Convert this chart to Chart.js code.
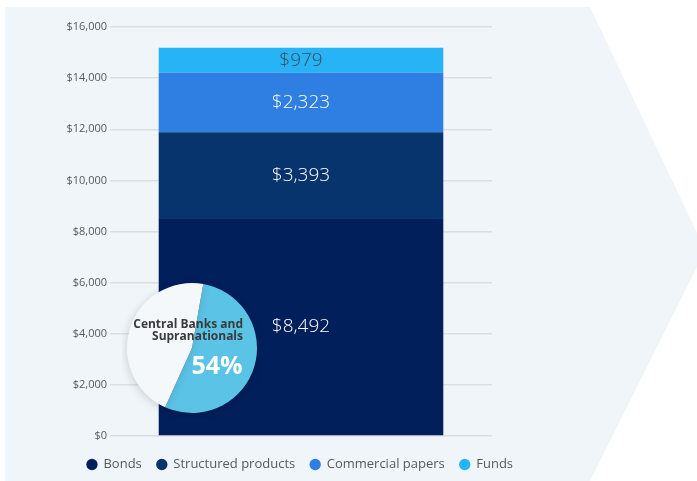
<!DOCTYPE html>
<html>
<head>
<meta charset="utf-8">
<script src="https://cdn.jsdelivr.net/npm/chart.js@4.4.1/dist/chart.umd.min.js"></script>
<style>
  html, body { margin: 0; padding: 0; background: #ffffff; overflow: hidden; }
  #wrap { position: relative; width: 697px; height: 481px; }
  #pane {
    position: absolute; left: 0; top: 0; width: 697px; height: 481px;
    background: #eff5f8;
    clip-path: polygon(5px 7px, 590px 7px, 697px 233px, 697px 267px, 590px 481px, 5px 481px);
  }
  #barBox { position: absolute; left: 0; top: 0; width: 600px; height: 481px; }
  #pieBox { position: absolute; left: 122px; top: 278px; width: 140px; height: 140px; }
</style>
</head>
<body>
<div id="wrap">
  <div id="pane"></div>
  <div id="barBox"><canvas id="barChart"></canvas></div>
  <div id="pieBox"><canvas id="pieChart"></canvas></div>
</div>
<script>
// stacked totals, $ bn
const categories = ['Total'];
const seriesNames = ['Bonds', 'Structured products', 'Commercial papers', 'Funds'];
const bonds = [8492];
const structuredProducts = [3393];
const commercialPapers = [2323];
const funds = [979];
const seriesColors = ['#011f5b', '#07346d', '#2f7ee1', '#27b4f6'];
const labelColors = ['#ffffff', '#ffffff', '#ffffff', '#3c4a58'];
const yTicks = [0, 2000, 4000, 6000, 8000, 10000, 12000, 14000, 16000];

// share held by central banks and supranationals
const pieLabels = ['Central Banks and Supranationals', 'Other'];
const pieShares = [54, 46];

const font = "'Open Sans', 'Liberation Sans', sans-serif";
const money = v => '$' + v.toLocaleString('en-US');

const seriesValues = [bonds, structuredProducts, commercialPapers, funds];

// write each segment's value in the middle of it
const segmentLabels = {
  id: 'segmentLabels',
  afterDatasetsDraw(chart) {
    const ctx = chart.ctx;
    ctx.save();
    ctx.font = '300 19px ' + font;
    ctx.textAlign = 'center';
    ctx.textBaseline = 'middle';
    chart.data.datasets.forEach((ds, i) => {
      const bar = chart.getDatasetMeta(i).data[0];
      ctx.fillStyle = labelColors[i];
      ctx.fillText(money(ds.data[0]), bar.x, (bar.y + bar.base) / 2);
    });
    ctx.restore();
  }
};

new Chart(document.getElementById('barChart'), {
  type: 'bar',
  data: {
    labels: categories,
    datasets: seriesNames.map((name, i) => ({
      label: name,
      data: seriesValues[i],
      backgroundColor: seriesColors[i],
      borderWidth: 0,
      barPercentage: 0.745,
      categoryPercentage: 1
    }))
  },
  options: {
    responsive: true,
    maintainAspectRatio: false,
    animation: false,
    layout: { padding: { left: 0, right: 0, top: 27, bottom: 0 } },
    plugins: {
      tooltip: { enabled: false },
      legend: {
        position: 'bottom',
        labels: {
          usePointStyle: true,
          pointStyle: 'circle',
          boxWidth: 10,
          boxHeight: 8,
          padding: 15,
          color: '#555a60',
          font: { family: font, size: 13 }
        }
      }
    },
    scales: {
      x: {
        stacked: true,
        ticks: { display: false },
        grid: { display: false },
        border: { display: false },
        afterFit: s => { s.height = 7; }
      },
      y: {
        stacked: true,
        min: 0,
        max: 16000,
        afterBuildTicks: s => { s.ticks = yTicks.map(v => ({ value: v })); },
        afterFit: s => { s.width = 110; },
        ticks: {
          padding: 3,
          color: '#555a60',
          font: { family: font, size: 11 },
          callback: v => money(v)
        },
        grid: { color: '#dadfe3', lineWidth: 1.5, drawTicks: false },
        border: { display: false }
      },
      // empty right-hand axis, keeps the plot clear of the arrow tip
      yRight: {
        position: 'right',
        min: 0,
        max: 16000,
        ticks: { display: false },
        grid: { display: false },
        border: { display: false },
        afterFit: s => { s.width = 108; }
      }
    }
  },
  plugins: [segmentLabels]
});

// soft shadow under the pie and its caption
const pieDecor = {
  id: 'pieDecor',
  beforeDatasetsDraw(chart) {
    chart.ctx.save();
    chart.ctx.shadowColor = 'rgba(0, 0, 0, 0.14)';
    chart.ctx.shadowBlur = 10;
    chart.ctx.shadowOffsetX = -1;
    chart.ctx.shadowOffsetY = 2;
  },
  afterDatasetsDraw(chart) {
    const ctx = chart.ctx;
    ctx.restore();
    ctx.save();
    ctx.textAlign = 'right';
    ctx.textBaseline = 'middle';
    ctx.fillStyle = '#3a3a3a';
    ctx.font = 'bold 12px ' + font;
    ctx.fillText('Central Banks and', 121, 47);
    ctx.fillText('Supranationals', 121, 59);
    ctx.textAlign = 'center';
    ctx.fillStyle = '#ffffff';
    ctx.font = 'bold 25px ' + font;
    ctx.fillText(pieShares[0] + '%', 95, 89);
    ctx.restore();
  }
};

new Chart(document.getElementById('pieChart'), {
  type: 'pie',
  data: {
    labels: pieLabels,
    datasets: [{
      data: pieShares,
      backgroundColor: ['#5bc3e6', '#f5f8fb'],
      borderWidth: 0
    }]
  },
  options: {
    responsive: true,
    maintainAspectRatio: false,
    animation: false,
    rotation: 10,
    layout: { padding: 5 },
    plugins: { legend: { display: false }, tooltip: { enabled: false } }
  },
  plugins: [pieDecor]
});
</script>
</body>
</html>
